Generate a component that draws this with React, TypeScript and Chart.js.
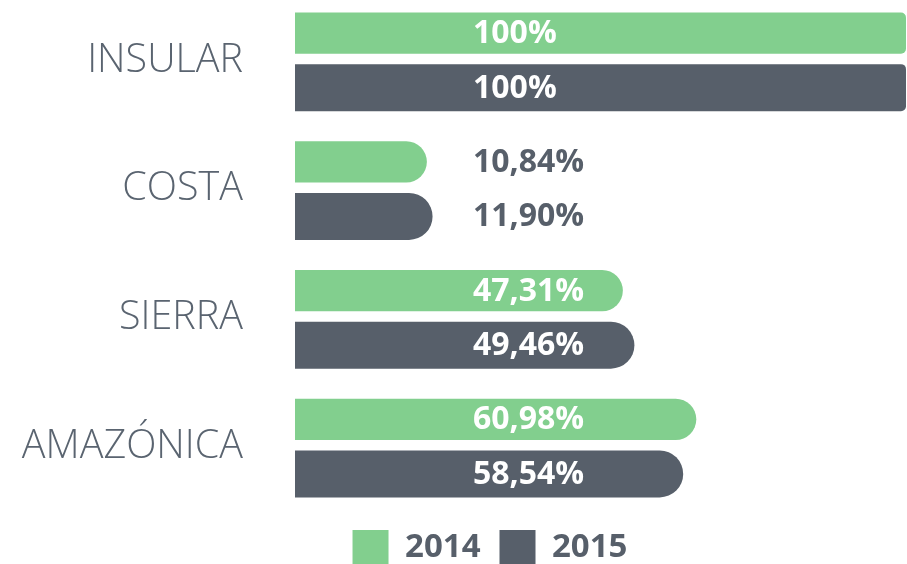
import React, { useEffect, useRef } from "react";
import { Chart, registerables } from "chart.js";

Chart.register(...registerables);

const categories = ["INSULAR", "COSTA", "SIERRA", "AMAZÓNICA"];
const seriesNames = ["2014", "2015"];
const values2014 = [100, 10.84, 47.31, 60.98];
const values2015 = [100, 11.9, 49.46, 58.54];

const AXIS_MIN = -13.7;
const AXIS_MAX = 100;

const GREEN = "#82CF8E";
const DARK = "#575F6A";
const LABEL_GRAY = "#5A6470";

function fmt(v: number): string {
  if (Number.isInteger(v)) return `${v}%`;
  return v.toFixed(2).replace(".", ",") + "%";
}

const valueLabels = {
  id: "valueLabels",
  afterDatasetsDraw(chart: any) {
    const { ctx, chartArea } = chart;
    ctx.save();
    ctx.font = "bold 32px 'Open Sans'";
    ctx.textAlign = "left";
    ctx.textBaseline = "middle";
    const tx = chartArea.left + 178;
    chart.data.datasets.forEach((ds: any, di: number) => {
      const meta = chart.getDatasetMeta(di);
      meta.data.forEach((bar: any, i: number) => {
        const text = fmt(ds.data[i]);
        const w = ctx.measureText(text).width;
        ctx.fillStyle = bar.x > tx + w + 4 ? "#FFFFFF" : DARK;
        ctx.fillText(text, tx, bar.y + 1);
      });
    });
    ctx.restore();
  },
};

// shift the legend so it is centred slightly right of the canvas centre
const legendShift = {
  id: "legendShift",
  afterLayout(chart: any) {
    if (chart.legend) chart.legend.left += 74;
  },
};

export default function App() {
  const ref = useRef<HTMLCanvasElement | null>(null);

  useEffect(() => {
    if (!ref.current) return;
    const radius = (c: any) => {
      const v = c.raw as number;
      return v >= AXIS_MAX ? 5 : 100;
    };
    const chart = new Chart(ref.current, {
      type: "bar",
      data: {
        labels: categories,
        datasets: [
          {
            label: seriesNames[0],
            data: values2014,
            backgroundColor: GREEN,
            base: AXIS_MIN,
            barPercentage: 0.758,
            categoryPercentage: 0.847,
            borderRadius: radius,
            borderSkipped: "start",
          } as any,
          {
            label: seriesNames[1],
            data: values2015,
            backgroundColor: DARK,
            base: AXIS_MIN,
            barPercentage: 0.862,
            categoryPercentage: 0.847,
            borderRadius: radius,
            borderSkipped: "start",
          } as any,
        ],
      },
      options: {
        indexAxis: "y",
        responsive: false,
        animation: false,
        layout: { padding: { left: 0, right: 1, top: 0, bottom: 0 } },
        scales: {
          x: {
            display: false,
            min: AXIS_MIN,
            max: AXIS_MAX,
          },
          y: {
            grid: { display: false, drawTicks: false },
            border: { display: false },
            ticks: {
              padding: 52,
              color: LABEL_GRAY,
              font: { family: "'Open Sans'", size: 39.5, weight: "300" as any },
            },
            afterFit: (scale: any) => {
              scale.width = 295;
              scale.paddingTop = 0;
              scale.paddingBottom = 0;
            },
          },
        },
        plugins: {
          legend: {
            position: "bottom",
            labels: {
              boxWidth: 36,
              boxHeight: 36,
              padding: 19,
              color: DARK,
              font: { family: "'Open Sans'", size: 33, weight: "bold" },
            },
          },
          tooltip: { enabled: false },
        },
      },
      plugins: [valueLabels, legendShift],
    });
    return () => chart.destroy();
  }, []);

  return (
    <div
      style={{
        position: "absolute",
        left: 0,
        top: 0,
        width: 907,
        height: 564,
        overflow: "hidden",
        background: "#FFFFFF",
      }}
    >
      <canvas
        ref={ref}
        width={907}
        height={580}
        style={{ position: "absolute", left: 0, top: -4, width: 907, height: 580 }}
      />
    </div>
  );
}
